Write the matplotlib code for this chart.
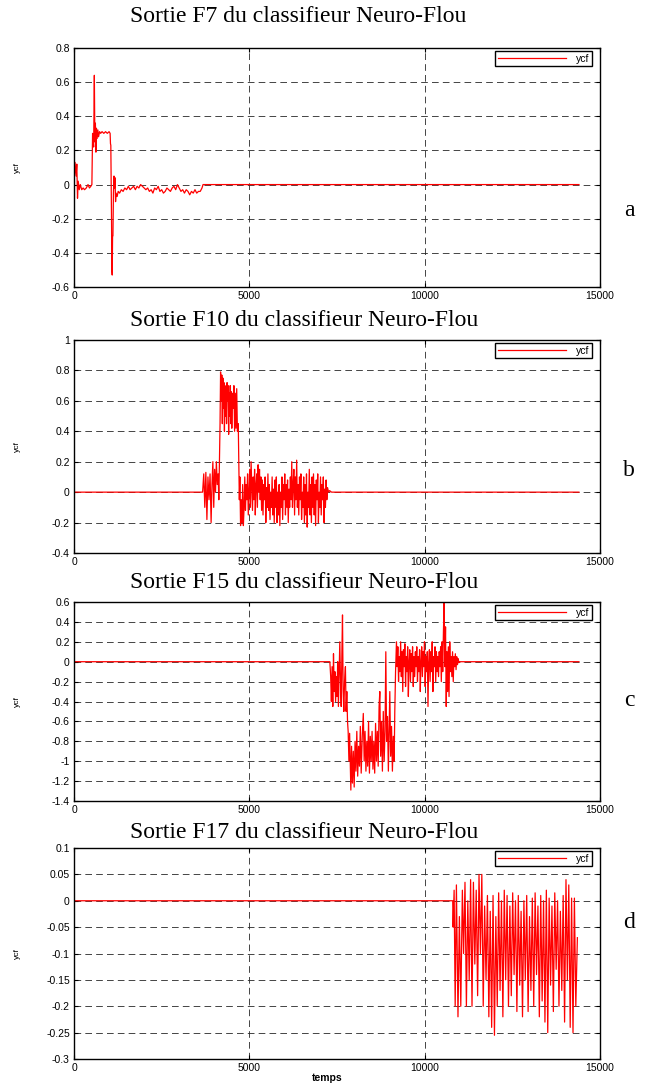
import matplotlib
matplotlib.use("Agg")
import matplotlib.pyplot as plt

# ---------------- data ----------------
titles = ["Sortie F7 du classifieur Neuro-Flou",
          "Sortie F10 du classifieur Neuro-Flou",
          "Sortie F15 du classifieur Neuro-Flou",
          "Sortie F17 du classifieur Neuro-Flou"]
letters = ["a", "b", "c", "d"]
x_ticks = [0, 5000, 10000, 15000]
x_ticklabels = ["0", "5000", "10000", "15000"]

a_yticks = [-0.6, -0.4, -0.2, 0, 0.2, 0.4, 0.6, 0.8]
a_yticklabels = ["-0.6", "-0.4", "-0.2", "0", "0.2", "0.4", "0.6", "0.8"]
b_yticks = [-0.4, -0.2, 0, 0.2, 0.4, 0.6, 0.8, 1.0]
b_yticklabels = ["-0.4", "-0.2", "0", "0.2", "0.4", "0.6", "0.8", "1"]
c_yticks = [-1.4, -1.2, -1.0, -0.8, -0.6, -0.4, -0.2, 0, 0.2, 0.4, 0.6]
c_yticklabels = ["-1.4", "-1.2", "-1", "-0.8", "-0.6", "-0.4", "-0.2", "0", "0.2", "0.4", "0.6"]
d_yticks = [-0.3, -0.25, -0.2, -0.15, -0.1, -0.05, 0, 0.05, 0.1]
d_yticklabels = ["-0.3", "-0.25", "-0.2", "-0.15", "-0.1", "-0.05", "0", "0.05", "0.1"]

a_x = [0, 30, 60, 80, 100, 120, 150, 180, 220, 260, 300, 350, 400, 440, 480, 510,
       530, 560, 580, 595, 610, 625, 640, 660, 680, 700, 730, 760, 800, 850, 900,
       950, 1000, 1030, 1040, 1050, 1070, 1080, 1090, 1100, 1110, 1125, 1140, 1155,
       1170, 1185, 1200, 1230, 1260, 1300, 1350, 1400, 1450, 1500, 1550, 1600, 1650,
       1700, 1750, 1800, 1850, 1900, 1950, 2000, 2050, 2100, 2150, 2200, 2250, 2300,
       2350, 2400, 2450, 2500, 2550, 2600, 2650, 2700, 2750, 2800, 2850, 2900, 2950,
       3000, 3050, 3100, 3150, 3200, 3250, 3300, 3350, 3400, 3450, 3500, 3550, 3600,
       3650, 3680, 14400]
a_y = [0, 0.13, 0.05, 0.12, -0.08, 0.02, -0.03, 0.0, -0.03, -0.02, -0.03, -0.02, 0.0,
       -0.02, -0.01, 0.0, 0.3, 0.22, 0.64, 0.25, 0.36, 0.19, 0.33, 0.27, 0.32, 0.28,
       0.31, 0.3, 0.31, 0.3, 0.31, 0.3, 0.31, 0.3, 0.24, 0.23, -0.2, -0.5, -0.53, -0.3,
       -0.3, -0.05, 0.05, -0.02, 0.04, -0.1, -0.05, -0.07, -0.04, -0.05, -0.03, -0.04,
       -0.02, -0.03, -0.01, -0.03, -0.02, -0.01, -0.03, -0.01, -0.02, 0.0, -0.01, -0.02,
       -0.03, -0.02, -0.04, -0.03, -0.05, -0.02, -0.03, -0.01, -0.04, -0.03, -0.05,
       -0.04, -0.02, -0.03, -0.04, -0.02, -0.01, -0.03, 0.0, -0.02, -0.04, -0.03, -0.05,
       -0.03, -0.04, -0.06, -0.04, -0.05, -0.03, -0.05, -0.04, -0.04, -0.02, 0.0, 0.0]

b_x = [0, 3667, 3700, 3730, 3760, 3790, 3820, 3850, 3880, 3910, 3935, 3960, 3985, 4010,
       4035, 4060, 4085, 4110, 4130, 4150, 4165, 4180, 4200, 4215, 4230, 4245, 4260,
       4275, 4290, 4305, 4320, 4335, 4350, 4365, 4380, 4395, 4410, 4425, 4440, 4455,
       4470, 4485, 4500, 4520, 4540, 4560, 4580, 4600, 4620, 4640, 4660, 4684, 4700,
       4715, 4730, 4750, 4770, 4790, 4810, 4830, 4850, 4870, 4890, 4910, 4930, 4950,
       4970, 4990, 5010, 5030, 5050, 5070, 5090, 5110, 5130, 5150, 5170, 5190, 5210,
       5230, 5250, 5270, 5290, 5310, 5330, 5350, 5370, 5390, 5410, 5430, 5450, 5470,
       5490, 5510, 5530, 5550, 5570, 5590, 5610, 5630, 5650, 5670, 5690, 5710, 5730,
       5750, 5770, 5790, 5810, 5830, 5850, 5870, 5890, 5910, 5930, 5950, 5970, 5990,
       6010, 6030, 6050, 6070, 6090, 6110, 6130, 6150, 6170, 6190, 6210, 6230, 6250,
       6270, 6290, 6310, 6330, 6350, 6370, 6390, 6410, 6430, 6450, 6470, 6490, 6510,
       6530, 6550, 6570, 6590, 6610, 6630, 6650, 6670, 6690, 6710, 6730, 6750, 6770,
       6790, 6810, 6830, 6850, 6870, 6890, 6910, 6930, 6950, 6970, 6990, 7010, 7030,
       7050, 7070, 7090, 7110, 7130, 7150, 7170, 7190, 7210, 7230, 7260, 7290, 7344,
       14400]
b_y = [0, 0, 0.12, -0.1, 0.13, -0.18, 0.1, -0.05, 0.12, -0.2, 0.05, 0.2, -0.1, 0.15,
       0.0, 0.2, 0.05, 0.12, -0.05, 0.25, 0.45, 0.79, 0.6, 0.77, 0.45, 0.75, 0.55, 0.72,
       0.4, 0.7, 0.5, 0.68, 0.45, 0.72, 0.6, 0.7, 0.38, 0.65, 0.5, 0.7, 0.45, 0.66, 0.42,
       0.65, 0.55, 0.7, 0.4, 0.65, 0.42, 0.68, 0.4, 0.45, 0.2, -0.05, 0.1, -0.22, -0.05,
       -0.2, 0.05, -0.22, -0.1, 0.1, -0.12, 0.05, -0.05, 0.12, -0.15, 0.0, 0.15, -0.1,
       0.2, 0.05, -0.12, 0.1, -0.05, 0.15, -0.15, 0.05, 0.12, -0.1, 0.18, 0.0, 0.15,
       -0.05, 0.1, -0.12, 0.08, -0.15, 0.05, -0.05, 0.1, -0.2, 0.03, -0.1, 0.12, -0.12,
       0.05, -0.18, 0.0, -0.1, 0.1, -0.15, 0.02, -0.2, 0.08, -0.1, 0.1, -0.2, 0.0, -0.15,
       0.05, -0.22, 0.0, -0.1, 0.1, -0.18, 0.05, -0.05, 0.12, -0.15, 0.05, -0.1, 0.08,
       -0.2, 0.02, -0.1, 0.1, -0.05, 0.2, -0.1, 0.05, 0.15, -0.15, 0.1, -0.05, 0.21,
       -0.1, 0.05, -0.15, 0.1, -0.05, 0.12, -0.18, 0.0, -0.1, 0.1, -0.2, 0.05, -0.15,
       0.12, -0.23, 0.0, -0.1, 0.15, -0.15, 0.05, -0.2, 0.1, -0.1, 0.12, -0.15, 0.05,
       -0.22, 0.08, -0.05, 0.12, -0.2, 0.0, -0.1, 0.1, -0.15, 0.05, -0.05, 0.1, -0.2,
       0.02, -0.1, 0.08, -0.05, 0.03, 0.0, 0.01, 0.0, 0.0]

c_x = [0, 7296, 7320, 7340, 7360, 7380, 7400, 7420, 7440, 7460, 7480, 7500, 7520, 7540,
       7560, 7580, 7600, 7620, 7640, 7657, 7675, 7695, 7715, 7740, 7760, 7780, 7800,
       7818, 7840, 7860, 7895, 7915, 7940, 7965, 7990, 8015, 8040, 8065, 8090, 8115,
       8140, 8165, 8190, 8220, 8250, 8275, 8300, 8325, 8350, 8375, 8400, 8425, 8450,
       8475, 8500, 8525, 8550, 8575, 8600, 8625, 8650, 8675, 8700, 8721, 8745, 8770,
       8795, 8820, 8845, 8870, 8892, 8915, 8940, 8965, 8990, 9006, 9030, 9055, 9080,
       9105, 9130, 9148, 9170, 9196, 9215, 9235, 9255, 9275, 9295, 9315, 9335, 9355,
       9375, 9395, 9415, 9435, 9455, 9475, 9495, 9515, 9535, 9555, 9575, 9595, 9615,
       9635, 9655, 9675, 9695, 9715, 9735, 9755, 9775, 9795, 9815, 9835, 9855, 9875,
       9895, 9915, 9935, 9955, 9975, 9995, 10015, 10035, 10055, 10075, 10095, 10115,
       10135, 10155, 10175, 10195, 10215, 10235, 10255, 10275, 10295, 10315, 10335,
       10355, 10375, 10395, 10415, 10435, 10455, 10475, 10495, 10515, 10535, 10555,
       10575, 10595, 10615, 10635, 10655, 10675, 10695, 10715, 10735, 10755, 10775,
       10795, 10815, 10835, 10855, 10875, 10895, 10915, 10935, 10955, 10975, 11000,
       14400]
c_y = [0, 0, -0.15, -0.4, -0.05, -0.45, 0.08, -0.3, -0.1, -0.4, -0.15, -0.35, 0.0,
       -0.45, -0.1, 0.2, -0.2, -0.45, 0.1, 0.47, -0.3, -0.5, -0.2, -0.05, -0.5, -0.3,
       -0.6, -0.7, -1.0, -0.72, -1.29, -0.85, -1.22, -0.9, -1.26, -0.8, -1.1, -0.7,
       -1.15, -0.85, -1.05, -0.65, -1.12, -0.75, -0.52, -1.0, -0.7, -1.1, -0.8, -1.05,
       -0.6, -1.12, -0.75, -1.0, -0.7, -1.08, -0.8, -1.12, -0.62, -1.0, -0.7, -1.05,
       -0.45, -0.3, -0.95, -0.6, -1.1, -0.5, -1.0, -0.7, 0.1, -0.8, -0.55, -1.1, -0.6,
       -0.3, -0.95, -0.65, -1.1, -0.75, -1.0, -0.5, -0.1, 0.2, -0.05, 0.15, -0.2, 0.05,
       -0.1, 0.2, -0.15, 0.1, -0.3, 0.12, -0.05, 0.18, -0.25, 0.05, -0.1, 0.15, -0.35,
       0.0, 0.12, -0.2, 0.08, -0.1, 0.15, -0.25, 0.05, -0.15, 0.1, -0.05, 0.15, -0.2,
       0.05, -0.1, 0.12, -0.3, 0.0, 0.15, -0.15, 0.1, -0.05, 0.2, -0.25, 0.05, -0.1, 0.1,
       -0.45, 0.0, 0.12, -0.2, 0.1, -0.1, 0.2, -0.3, 0.05, -0.05, 0.15, -0.2, 0.1, -0.1,
       0.05, -0.15, 0.1, -0.05, 0.15, -0.2, 0.2, -0.1, 0.3, 0.6, -0.05, 0.35, -0.45,
       0.1, -0.3, 0.15, -0.35, 0.2, -0.1, 0.05, -0.15, 0.1, -0.2, 0.05, -0.05, 0.08,
       -0.08, 0.05, -0.03, 0.03, -0.01, 0.0, 0.0]

d_x = [0, 10800, 10811, 10840, 10870, 10905, 10950, 10990, 11030, 11075, 11110, 11150,
       11190, 11230, 11270, 11310, 11350, 11390, 11430, 11470, 11510, 11550, 11590,
       11630, 11670, 11710, 11750, 11790, 11830, 11870, 11910, 11950, 11990, 12030,
       12070, 12110, 12150, 12190, 12230, 12270, 12310, 12350, 12390, 12430, 12470,
       12510, 12550, 12590, 12630, 12670, 12710, 12750, 12790, 12830, 12870, 12910,
       12950, 12990, 13030, 13070, 13110, 13150, 13190, 13230, 13270, 13310, 13350,
       13390, 13430, 13470, 13510, 13550, 13590, 13630, 13670, 13710, 13750, 13790,
       13830, 13870, 13910, 13950, 13990, 14030, 14070, 14110, 14150, 14190, 14230,
       14270, 14310, 14355]
d_y = [0, 0, -0.05, 0.02, -0.2, 0.03, -0.22, -0.03, -0.2, 0.02, -0.1, 0.035, -0.2, 0.0,
       -0.15, 0.04, -0.2, 0.035, -0.12, 0.02, -0.18, 0.05, -0.1, 0.05, -0.2, -0.01,
       -0.15, 0.01, -0.22, -0.02, -0.24, 0.01, -0.255, -0.03, -0.2, 0.015, -0.17, 0.0,
       -0.22, 0.02, -0.15, 0.01, -0.2, -0.01, -0.18, 0.015, -0.14, 0.0, -0.21, 0.01,
       -0.16, -0.02, -0.22, 0.0, -0.15, 0.01, -0.21, -0.03, -0.17, 0.005, -0.2, 0.015,
       -0.14, -0.01, -0.22, 0.01, -0.19, 0.0, -0.23, 0.02, -0.25, 0.005, -0.16, -0.01,
       -0.21, 0.015, -0.13, 0.0, -0.2, -0.02, -0.17, 0.01, -0.23, 0.04, -0.15, 0.03,
       -0.24, 0.005, -0.25, 0.005, -0.2, -0.07]

# ---------------- figure ----------------
W, H = 650, 1086
fig = plt.figure(figsize=(W / 100, H / 100), dpi=100)
fig.patch.set_facecolor("white")

tick_font = "Liberation Sans"
serif = "Liberation Serif"

# axes boxes in pixel coordinates: (left, top, right, bottom)
boxes = [(74, 48, 600, 287), (74, 340, 600, 553), (74, 602, 600, 801), (74, 848, 600, 1059)]
title_y = [16, 320, 582, 832]
letter_y = [210, 470, 700, 922]

series = [(a_x, a_y, a_yticks, a_yticklabels, (-0.6, 0.8)),
          (b_x, b_y, b_yticks, b_yticklabels, (-0.4, 1.0)),
          (c_x, c_y, c_yticks, c_yticklabels, (-1.4, 0.6)),
          (d_x, d_y, d_yticks, d_yticklabels, (-0.3, 0.1))]

for i, ((l, t, r, b), (xs, ys, yt, ytl, ylim)) in enumerate(zip(boxes, series)):
    ax = fig.add_axes([l / W, 1 - b / H, (r - l) / W, (b - t) / H])
    ax.plot(xs, ys, color="red", lw=0.9, label="ycf")
    ax.set_xlim(0, 15000)
    ax.set_ylim(*ylim)
    ax.set_xticks(x_ticks)
    ax.set_xticklabels(x_ticklabels, fontfamily=tick_font, fontsize=7.5)
    ax.set_yticks(yt)
    ax.set_yticklabels(ytl, fontfamily=tick_font, fontsize=7.5)
    ax.tick_params(direction="in", length=3, width=0.8, top=True, right=True, pad=3)
    ax.grid(True, color="0.15", linestyle=(0, (8, 5)), linewidth=0.6)
    for sp in ax.spines.values():
        sp.set_linewidth(1.0)
        sp.set_color("black")
    ax.set_ylabel("ycf", fontfamily=tick_font, fontsize=6)
    ax.yaxis.set_label_coords(-(l - 21) / (r - l), 0.5)
    leg = ax.legend(loc="upper right", bbox_to_anchor=(1 - 8 / (r - l), 1 - 3 / (b - t)),
                    prop={"family": tick_font, "size": 7.5}, handlelength=6.5,
                    fancybox=False, framealpha=1, edgecolor="black", borderpad=0.25,
                    handletextpad=1.0, borderaxespad=0)
    leg.get_frame().set_linewidth(1.0)
    fig.text(130 / W, 1 - title_y[i] / H, titles[i], fontfamily=serif, fontsize=17,
             ha="left", va="center")
    fig.text(629 / W, 1 - letter_y[i] / H, letters[i], fontfamily=serif, fontsize=17,
             ha="center", va="center")

fig.text(327 / W, 1 - 1078 / H, "temps", fontfamily=tick_font, fontsize=7.5,
         fontweight="bold", ha="center", va="center")

fig.savefig("out.png", dpi=100, facecolor="white")
